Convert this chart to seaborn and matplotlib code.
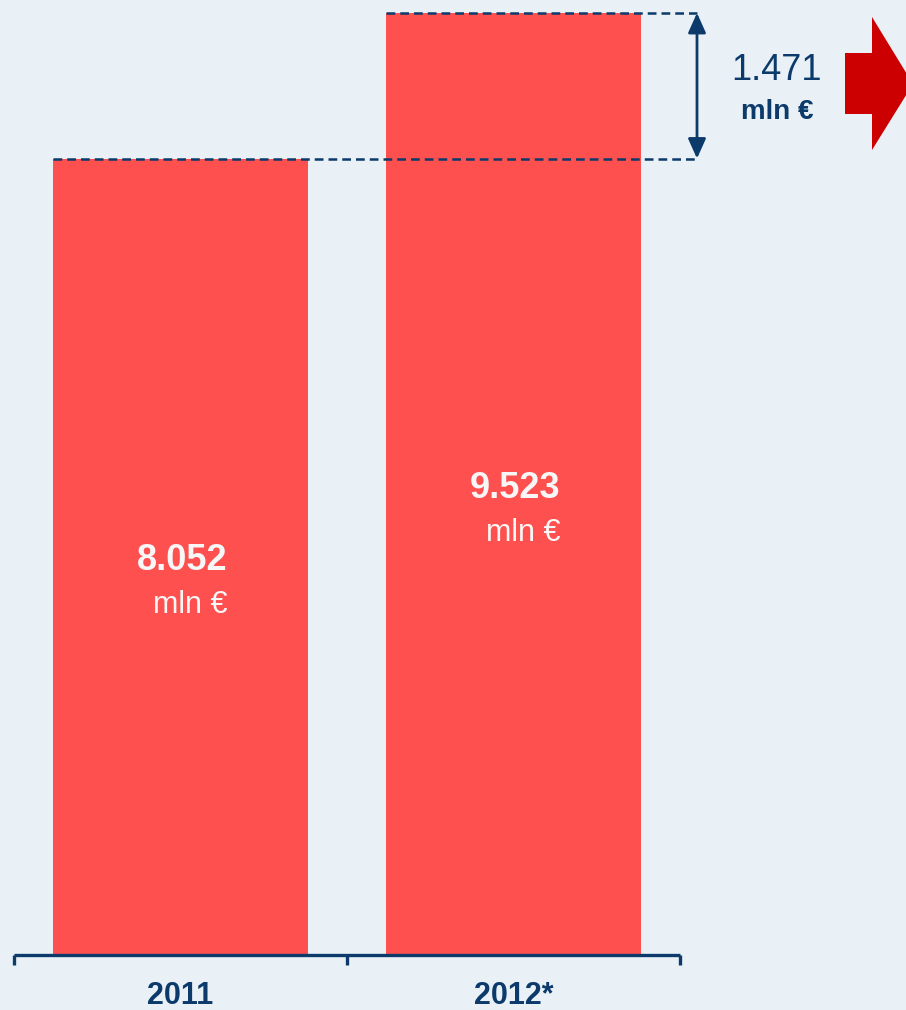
import matplotlib
matplotlib.use("Agg")
import matplotlib.pyplot as plt
import seaborn as sns
import pandas as pd
from matplotlib import font_manager
from matplotlib.patches import Polygon

years = ["2011", "2012*"]
values = [8052, 9523]
unit = "mln €"

BG = "#e9f1f7"
BAR = "#ff5050"
NAVY = "#0b3a6b"
RED = "#cc0000"

sns.set_theme(style="white")
names = {f.name for f in font_manager.fontManager.ttflist}
narrow = "Liberation Sans Narrow" if "Liberation Sans Narrow" in names else "Liberation Sans"
plt.rcParams["font.family"] = ["Liberation Sans", "DejaVu Sans"]

W, H = 906, 1010
fig = plt.figure(figsize=(W / 100, H / 100), dpi=100, facecolor=BG)
ax = fig.add_axes([14 / W, 55 / H, 666 / W, 942 / H])
ax.set_facecolor(BG)
ax.patch.set_alpha(0)

df = pd.DataFrame({"year": years, "value": values})
sns.barplot(data=df, x="year", y="value", color=BAR, saturation=1, width=0.766,
            linewidth=0, edgecolor="none", ax=ax)

ax.set_xlim(-0.5, 1.5)
ax.set_ylim(0, max(values))
for s in ["top", "right", "left"]:
    ax.spines[s].set_visible(False)
ax.spines["bottom"].set_color(NAVY)
ax.spines["bottom"].set_linewidth(2.4)
ax.spines["bottom"].set_capstyle("butt")
ax.set_yticks([])
ax.set_xlabel("")
ax.set_ylabel("")
ax.set_xticks([0, 1])
ax.set_xticklabels(years)
ax.set_xticks([-0.5, 0.5, 1.5], minor=True)
ax.tick_params(axis="x", which="major", bottom=True, length=0, pad=19)
ax.tick_params(axis="x", which="minor", bottom=True, length=7, width=2.4, color=NAVY,
               direction="out")
for lab in ax.get_xticklabels():
    lab.set_fontfamily(narrow)
    lab.set_fontweight("bold")
    lab.set_fontsize(22)
    lab.set_color(NAVY)

def fmt(v):
    return f"{v:,}".replace(",", ".")

# value labels inside bars
for i, v in enumerate(values):
    xr = i + 47 / 333
    ax.annotate(fmt(v), (xr, v / 2), xytext=(0, -3), textcoords="offset points",
                ha="right", va="center", fontsize=26, fontweight="bold", color="#f7f7f7")
    ax.annotate(unit, (xr, v / 2), xytext=(0, -35), textcoords="offset points",
                ha="right", va="center", fontsize=22, color="#f7f7f7")

# dashed reference lines and difference arrow
xa = 1.5 + 17 / 333
left0 = 0 - 0.766 / 2
left1 = 1 - 0.766 / 2
ax.plot([left0, xa], [values[0], values[0]], ls=(0, (3.5, 2)), color=NAVY, lw=1.8, clip_on=False)
ax.plot([left1, xa], [values[1], values[1]], ls=(0, (3.5, 2)), color=NAVY, lw=1.8, clip_on=False)
ax.annotate("", xy=(xa, values[1]), xytext=(xa, values[0]),
            arrowprops=dict(arrowstyle="<|-|>,head_length=1.0,head_width=0.45",
                            color=NAVY, lw=2, shrinkA=0, shrinkB=0), annotation_clip=False)
diff = values[1] - values[0]
xt = 1.5 + 97 / 333
ym = (values[0] + values[1]) / 2
ax.annotate(fmt(diff), (xt, ym), xytext=(0, 11), textcoords="offset points",
            ha="center", va="center", fontsize=26, fontweight="medium", color=NAVY,
            annotation_clip=False)
ax.annotate(unit, (xt, ym), xytext=(0, -19), textcoords="offset points",
            ha="center", va="center", fontsize=20, fontweight="bold", color=NAVY,
            annotation_clip=False)

# red block arrow (decoration)
pts = [(845, 53), (872, 53), (872, 17), (913, 84), (872, 150), (872, 114), (845, 114)]
poly = Polygon([(x / W, 1 - y / H) for x, y in pts], closed=True,
               transform=fig.transFigure, facecolor=RED, edgecolor="none")
fig.patches.append(poly)

fig.savefig("out.png", dpi=100, facecolor=BG)
